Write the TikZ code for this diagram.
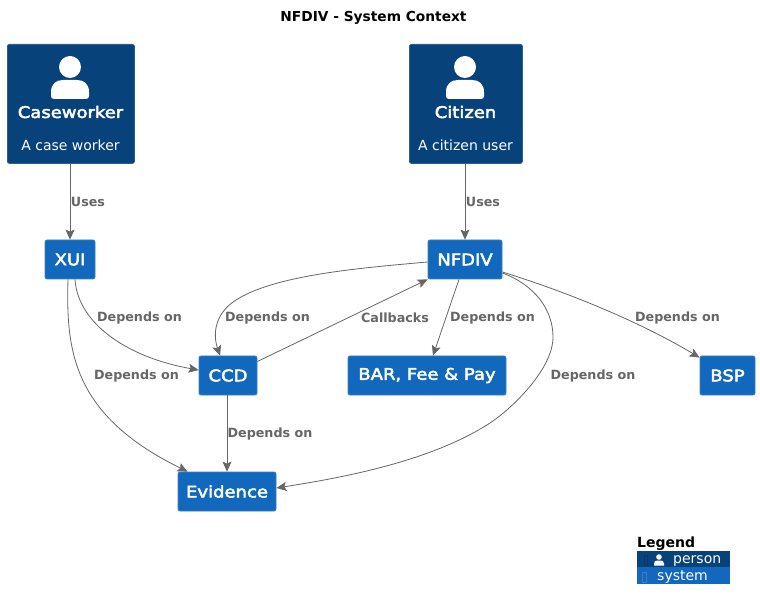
\documentclass[tikz,border=0pt]{standalone}
\usepackage{fontspec}
\setmainfont{DejaVu Sans}
\newfontfamily\nodefont[FakeStretch=1.125,FakeBold=3]{DejaVu Sans}
\usetikzlibrary{arrows.meta}
\definecolor{persfill}{HTML}{08427B}
\definecolor{persline}{HTML}{2F5F90}
\definecolor{sysfill}{HTML}{1168BD}
\definecolor{sysline}{HTML}{3C7FC0}
\definecolor{conn}{HTML}{666666}
\tikzset{
 x=1pt,y=-1pt,
 box/.style={rounded corners=2pt,line width=0.8pt,inner sep=0pt,text=white,font=\fontsize{16}{19}\selectfont\nodefont},
 personbox/.style={box,draw=persline,fill=persfill},
 sysbox/.style={box,draw=sysline,fill=sysfill},
 link/.style={draw=conn,line width=0.8pt,-{Stealth[length=10pt,width=9pt,inset=2pt]}},
 lab/.style={text=conn,inner sep=0pt,font=\fontsize{12.7}{15}\selectfont\bfseries},
 icon/.style={fill=white,draw=none},
 sub/.style={text=white,inner sep=0pt,font=\fontsize{14}{16}\selectfont},
 title/.style={inner sep=0pt,font=\fontsize{13.75}{16}\selectfont\bfseries},
 legtext/.style={text=white,inner sep=0pt,anchor=west,font=\fontsize{14}{16}\selectfont},
}
\begin{document}
\begin{tikzpicture}
\useasboundingbox (0,0) rectangle (760,609);
\node[title] (ttl) at (373.5,18) {NFDIV - System Context};
% persons
\node[personbox,minimum width=127pt,minimum height=119pt,anchor=north west] (case) at (7,44) {};
\node[personbox,minimum width=113pt,minimum height=119pt,anchor=north west] (citi) at (409,44) {};
\node[box,text=white] (casen) at (70.5,112) {Caseworker};
\node[box,text=white] (citin) at (465.5,112) {Citizen};
\node[sub] (cased) at (70.5,145.5) {A case worker};
\node[sub] (citid) at (465.5,145.5) {A citizen user};
\foreach \cx in {70,465}{
 \fill[icon] (\cx,67) circle (11);
 \fill[icon] (\cx-19,96) -- (\cx-19,92) .. controls (\cx-19,84) and (\cx-14,80) .. (\cx-7,80) -- (\cx+7,80) .. controls (\cx+14,80) and (\cx+19,84) .. (\cx+19,92) -- (\cx+19,96) .. controls (\cx+19,98) and (\cx+18,99) .. (\cx+16,99) -- (\cx-16,99) .. controls (\cx-18,99) and (\cx-19,98) .. (\cx-19,96) -- cycle;
}
% systems
\node[sysbox,minimum width=50pt,minimum height=39pt] (xui) at (70,259.5) {XUI};
\node[sysbox,minimum width=74pt,minimum height=39pt] (nfdiv) at (465,259.5) {NFDIV};
\node[sysbox,minimum width=58pt,minimum height=39pt] (ccd) at (228,375.5) {CCD};
\node[sysbox,minimum width=158pt,minimum height=39pt] (bar) at (427,375.5) {BAR, Fee \& Pay};
\node[sysbox,minimum width=55pt,minimum height=39pt] (bsp) at (727.5,375.5) {BSP};
\node[sysbox,minimum width=98pt,minimum height=39pt] (evid) at (227,491.5) {Evidence};
% connectors
\draw[link] (case.south -| xui.south) -- (xui.north);
\draw[link] (citi.south -| nfdiv.north) -- (nfdiv.north);
\draw[link] ([xshift=5pt]xui.south) .. controls (78,325) and (130,358) .. ([yshift=5.5pt]ccd.west);
\draw[link] ([xshift=-2pt]xui.south) .. controls (66,350) and (72,415) .. ([xshift=10pt]evid.north west);
\draw[link] ([yshift=-2.5pt]nfdiv.west) .. controls (360,268) and (275,275) .. (236,300) .. controls (214,314) and (213,335) .. ([xshift=-8pt]ccd.north);
\draw[link] ([yshift=14pt]ccd.east) -- (nfdiv.south west);
\draw[link] ([xshift=-6pt]nfdiv.south) -- ([xshift=6pt]bar.north);
\draw[link] ([yshift=-12.5pt]nfdiv.east) .. controls (570,293) and (640,322) .. ([yshift=-2pt]bsp.north west);
\draw[link] ([yshift=-13.5pt]nfdiv.east) .. controls (535,285) and (553,310) .. (553,337) .. controls (553,370) and (510,410) .. (490,423) .. controls (430,462) and (340,478) .. ([yshift=3.5pt]evid.east);
\draw[link] (ccd.south -| evid.north) -- (evid.north);
% labels
\node[lab] (l1) at (88,202) {Uses};
\node[lab] (l2) at (483,202) {Uses};
\node[lab] (l3) at (139.5,318) {Depends on};
\node[lab] (l4) at (136.5,376) {Depends on};
\node[lab] (l5) at (267.5,318) {Depends on};
\node[lab] (l6) at (395,318) {Callbacks};
\node[lab] (l7) at (492.5,318) {Depends on};
\node[lab] (l8) at (677.5,318) {Depends on};
\node[lab] (l9) at (593,376) {Depends on};
\node[lab] (l10) at (270,434) {Depends on};
% legend
\node[inner sep=0pt,anchor=west,font=\fontsize{14}{16}\selectfont\bfseries] (legt) at (637,544) {Legend};
\fill[persfill] (637,551) rectangle (730,567);
\fill[sysfill] (637,567) rectangle (730,584);
\draw[persfill!85!black,line width=0.4pt] (644,555) rectangle (647,565);
\draw[sysline,line width=0.5pt] (642,572) rectangle (646.5,582);
\fill[icon] (659,557) circle (2.8);
\fill[icon] (654,565.5) -- (654,563.5) .. controls (654,561.5) and (655.5,560.5) .. (657,560.5) -- (661,560.5) .. controls (662.5,560.5) and (664,561.5) .. (664,563.5) -- (664,565.5) -- cycle;
\node[legtext] (lp) at (673,561.5) {person};
\node[legtext] (ls) at (657,577) {system};
\end{tikzpicture}
\end{document}
